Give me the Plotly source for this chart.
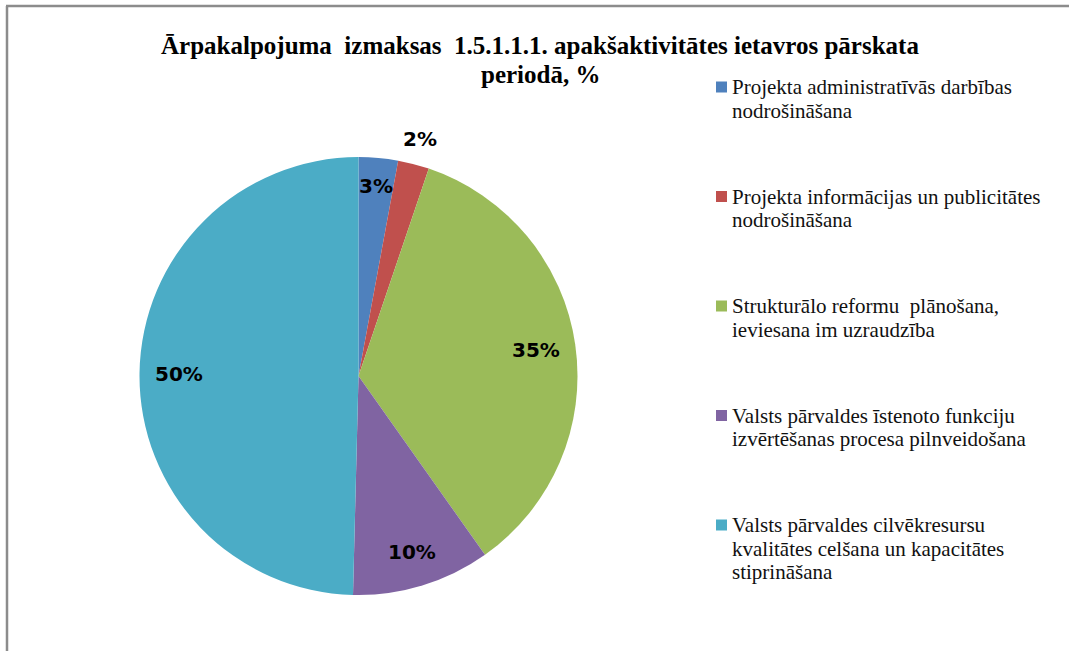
import math
import plotly.graph_objects as go

W, H = 1069, 651

# ---- data ----
legend_lines = [
    ["Projekta administratīvās darbības", "nodrošināšana"],
    ["Projekta informācijas un publicitātes", "nodrošināšana"],
    ["Strukturālo reformu\u00a0 plānošana,", "ieviesana im uzraudzība"],
    ["Valsts pārvaldes īstenoto funkciju", "izvērtēšanas procesa pilnveidošana"],
    ["Valsts pārvaldes cilvēkresursu", "kvalitātes celšana un kapacitātes", "stiprināšana"],
]
categories = [" ".join(l) for l in legend_lines]
values = [2.9, 2.3, 35.0, 10.2, 49.6]
colors = ["#4F81BD", "#C0504D", "#9BBB59", "#8064A2", "#4BACC6"]
label_radius = [0.87, 1.12, 0.82, 0.84, 0.82]
title_lines = ["Ārpakalpojuma\u00a0 izmaksas\u00a0 1.5.1.1.1. apakšaktivitātes ietavros pārskata",
               "periodā, %"]

# ---- layout helpers (pixels -> paper) ----
def px(x):
    return x / W

def py(y):
    return 1 - y / H

cx, cy, r = 358.5, 376.0, 219.0

fig = go.Figure()
fig.add_trace(go.Pie(
    labels=categories,
    values=values,
    sort=False,
    direction="clockwise",
    rotation=0,
    marker=dict(colors=colors, line=dict(width=0)),
    textinfo="none",
    hoverinfo="label+percent",
    showlegend=False,
    domain=dict(x=[px(cx - r), px(cx + r)], y=[py(cy + r), py(cy - r)]),
))

annotations = []
total = sum(values)
cum = 0.0
for v, f in zip(values, label_radius):
    mid = (cum + v / 2) / total
    cum += v
    th = 2 * math.pi * mid
    lx = cx + f * r * math.sin(th)
    ly = cy - f * r * math.cos(th)
    annotations.append(dict(
        x=px(lx), y=py(ly), xref="paper", yref="paper",
        text=f"{round(v / total * 100):d}%", showarrow=False,
        xanchor="center", yanchor="middle",
        font=dict(family="DejaVu Sans", size=20, color="#000000", weight="bold"),
    ))

# title (one annotation per line)
for j, t in enumerate(title_lines):
    annotations.append(dict(
        x=px(540), y=py(45 + j * 29), xref="paper", yref="paper", text=t,
        showarrow=False, xanchor="center", yanchor="middle",
        font=dict(family="Liberation Serif", size=25, color="#000000", weight="bold"),
    ))

# legend
shapes = []
item_top, item_gap, line_gap = 87.0, 109.5, 23.5
for i, (lines, col) in enumerate(zip(legend_lines, colors)):
    y0 = item_top + i * item_gap
    shapes.append(dict(type="rect", xref="paper", yref="paper",
                       x0=px(716), x1=px(727), y0=py(y0 - 5.5), y1=py(y0 + 5.5),
                       fillcolor=col, line=dict(width=0)))
    for j, t in enumerate(lines):
        annotations.append(dict(
            x=px(730), y=py(y0 + j * line_gap), xref="paper", yref="paper",
            text=t, showarrow=False, xanchor="left", yanchor="middle",
            font=dict(family="Liberation Serif", size=21, color="#111111"),
        ))

# chart-area border (top and left edges visible)
shapes.append(dict(type="line", xref="paper", yref="paper",
                   x0=px(6), x1=1, y0=py(6), y1=py(6),
                   line=dict(color="#8c8c8c", width=2.5)))
shapes.append(dict(type="line", xref="paper", yref="paper",
                   x0=px(7), x1=px(7), y0=py(6), y1=0,
                   line=dict(color="#8c8c8c", width=2.5)))

fig.update_layout(
    width=W, height=H,
    margin=dict(l=0, r=0, t=0, b=0),
    paper_bgcolor="#ffffff", plot_bgcolor="#ffffff",
    annotations=annotations, shapes=shapes,
    showlegend=False,
)

fig.write_html("out.html", config={"displayModeBar": False},
               post_script="document.body.style.margin='0';")
